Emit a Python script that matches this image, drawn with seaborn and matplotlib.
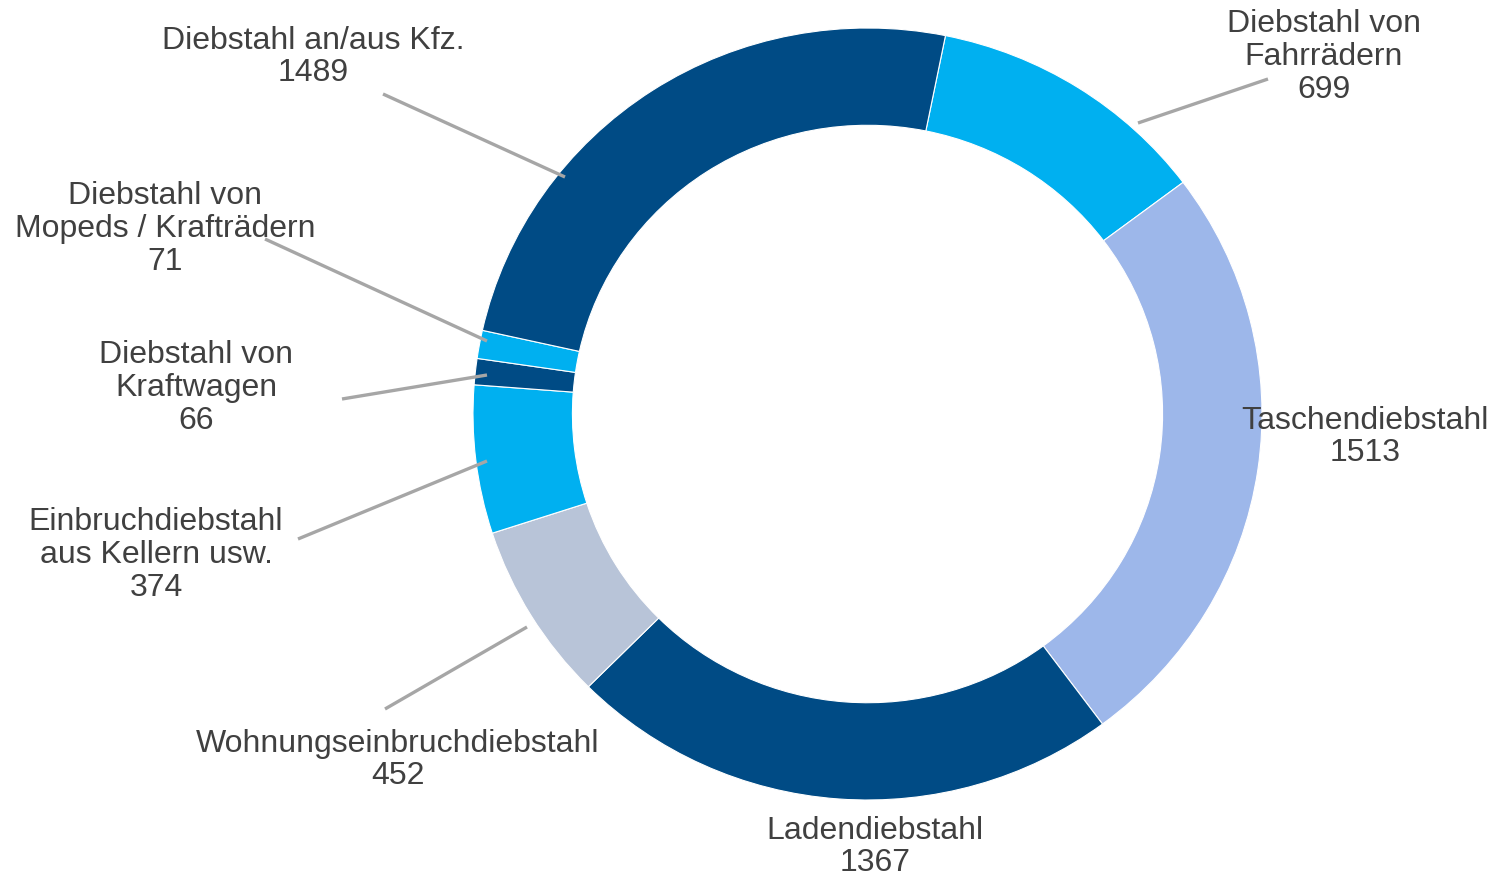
import matplotlib
matplotlib.use("Agg")
import matplotlib.pyplot as plt
import seaborn as sns

# Data (clockwise from the top)
categories = [
    "Diebstahl von\nFahrrädern",
    "Taschendiebstahl",
    "Ladendiebstahl",
    "Wohnungseinbruchdiebstahl",
    "Einbruchdiebstahl\naus Kellern usw.",
    "Diebstahl von\nKraftwagen",
    "Diebstahl von\nMopeds / Krafträdern",
    "Diebstahl an/aus Kfz.",
]
values = [699, 1513, 1367, 452, 374, 66, 71, 1489]

colors = ["#00B0F0", "#9DB7EA", "#004B85", "#B8C4D8",
          "#00B0F0", "#004B85", "#00B0F0", "#004B85"]

sns.set_theme(style="white")
plt.rcParams['font.family'] = ['Liberation Sans', 'DejaVu Sans']

W, H = 1498, 879
CX, CY, RX, RY = 867.5, 415, 394.5, 386


def px(x, y):
    # pixel position -> data coordinates (ring has radius 1)
    return (x - CX) / RX, (CY - y) / RY


fig = plt.figure(figsize=(W / 100, H / 100), dpi=100)
ax = fig.add_axes([0, 0, 1, 1])

ax.pie(values, colors=colors, startangle=78.6, counterclock=False, radius=1,
       wedgeprops=dict(width=0.252, edgecolor="white", linewidth=0.8))
ax.set_aspect("auto")
ax.set_xlim(px(0, 0)[0], px(W, 0)[0])
ax.set_ylim(px(0, H)[1], px(0, 0)[1])
ax.axis("off")

# label layout (pixel centres of each label block)
label_pos = [(1324, 57), (1365, 437), (875, 847), (398, 760),
             (156, 555), (196, 388), (165, 229), (313, 57)]
# leader lines: (start near text, end on ring) or None
leaders = [((1138, 124), (1268, 80)), None, None, ((385, 710), (527, 628)),
           ((298, 540), (487, 462)), ((342, 400), (487, 376)),
           ((265, 240), (487, 342)), ((383, 95), (565, 178))]

for cat, val, pos, ld in zip(categories, values, label_pos, leaders):
    if ld is not None:
        (x0, y0), (x1, y1) = px(*ld[0]), px(*ld[1])
        ax.plot([x0, x1], [y0, y1], color="#A6A6A6", lw=2.4,
                solid_capstyle="butt", zorder=3)
    tx, ty = px(*pos)
    ax.text(tx, ty, f"{cat}\n{val}", ha="center", va="center",
            fontsize=23, color="#404040", linespacing=1.13, zorder=4)

fig.savefig("out.png", dpi=100)
